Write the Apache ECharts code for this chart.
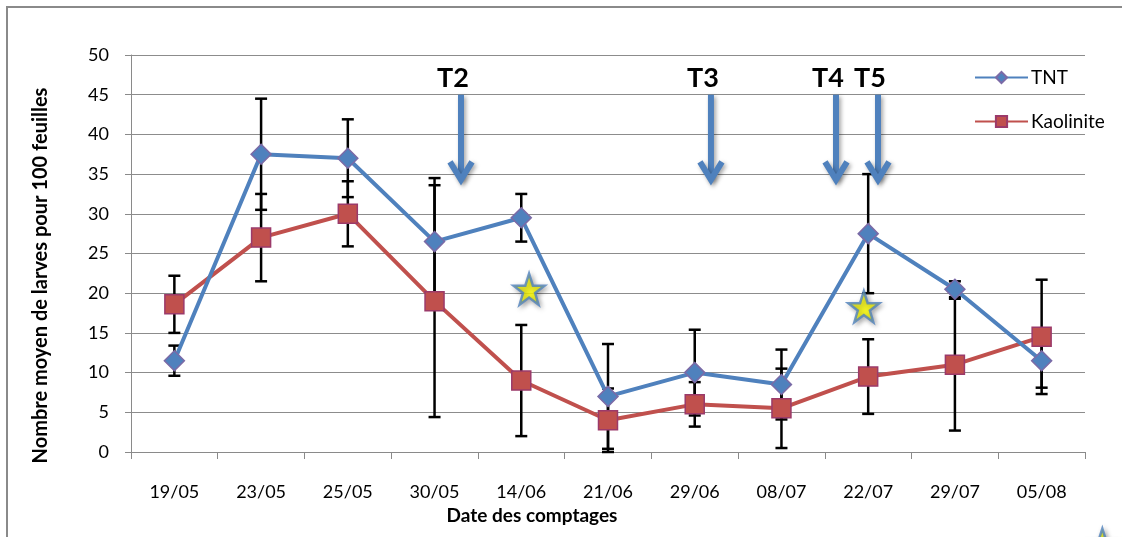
<!DOCTYPE html>
<html><head><meta charset="utf-8">
<script src="https://cdn.jsdelivr.net/npm/echarts@6/dist/echarts.min.js"></script>
<style>html,body{margin:0;padding:0;background:#fff}#c{width:1122px;height:537px}</style>
</head><body><div id="c"></div>
<script>
const categories = ['19/05','23/05','25/05','30/05','14/06','21/06','29/06','08/07','22/07','29/07','05/08'];
const tnt = [11.5, 37.5, 37, 26.5, 29.5, 7, 10, 8.5, 27.5, 20.5, 11.5];
const tntErr = [1.9, 7, 4.9, 8, 3, 6.6, 5.4, 4.4, 7.5, 1, 3.4];
const kao = [18.6, 27, 30, 19, 9, 4, 6, 5.5, 9.5, 11, 14.5];
const kaoErr = [3.6, 5.5, 4.1, 14.6, 7, 4.0, 2.8, 5, 4.7, 8.3, 7.2];
const yTicks = [0, 5, 10, 15, 20, 25, 30, 35, 40, 45, 50];
// treatment arrows: position along the date axis (category units), top, tip, label
const arrowX = [3.805, 6.687, 8.129, 8.613];
const arrowTop = [45, 45, 45, 45];
const arrowTip = [33.9, 33.9, 33.9, 33.9];
const arrowLabels = ['T2', 'T3', 'T4', 'T5'];
// star annotations
const starX = [4.59, 8.45, 11.2];
const starY = [20.5, 18.3, -11.6];

const FONT = 'Lato, "Open Sans", sans-serif';
const BLUE = '#4F81BD', RED = '#C0504D';
const starPath = 'path://M50,0 L61.8,35.1 L98.1,35.1 L68.8,56.7 L79.4,91 L50,70 L20.6,91 L31.2,56.7 L1.9,35.1 L38.2,35.1 Z';

function errData(m, e) { return m.map((v, i) => [i, v - e[i], v + e[i]]); }
function errRender(params, api) {
  const x = api.value(0), lo = Math.max(0, api.value(1)), hi = api.value(2);
  const a = api.coord([x, hi]), b = api.coord([x, lo]);
  const hw = 6, st = {stroke: '#000', lineWidth: 2.5};
  return {type: 'group', children: [
    {type: 'line', shape: {x1: a[0], y1: a[1], x2: b[0], y2: b[1]}, style: st},
    {type: 'line', shape: {x1: a[0] - hw, y1: a[1], x2: a[0] + hw, y2: a[1]}, style: st},
    {type: 'line', shape: {x1: b[0] - hw, y1: b[1], x2: b[0] + hw, y2: b[1]}, style: st}
  ]};
}
function arrowRender(params, api) {
  const x = api.value(0);
  const t = api.coord([x, api.value(1)]), b = api.coord([x, api.value(2)]);
  const idx = params.dataIndex;
  const sh = {shadowBlur: 4, shadowColor: 'rgba(0,0,0,0.35)', shadowOffsetX: 2, shadowOffsetY: 2};
  const st = Object.assign({stroke: BLUE, lineWidth: 6, lineCap: 'butt', lineJoin: 'miter', fill: null}, sh);
  return {type: 'group', children: [
    {type: 'line', shape: {x1: t[0], y1: t[1], x2: b[0], y2: b[1] - 3}, style: st},
    {type: 'polyline', shape: {points: [[b[0] - 11, b[1] - 21], [b[0], b[1] - 3], [b[0] + 11, b[1] - 21]]}, style: st},
    {type: 'text', style: {text: arrowLabels[idx], x: t[0] - 8, y: t[1] - 16, align: 'center', verticalAlign: 'middle',
      font: 'bold 27px ' + FONT, fill: '#000'}}
  ]};
}

const chart = echarts.init(document.getElementById('c'));
chart.setOption({
  animation: false,
  backgroundColor: '#fff',
  graphic: [{type: 'rect', shape: {x: 7, y: 7, width: 1140, height: 560}, style: {fill: null, stroke: '#8a8a8a', lineWidth: 2}, silent: true}],
  grid: {left: 131, right: 37, top: 55, bottom: 85},
  legend: {
    data: ['TNT', 'Kaolinite'], orient: 'vertical', left: 969, top: 63, itemGap: 25,
    itemWidth: 53, itemHeight: 14,
    textStyle: {fontFamily: FONT, fontSize: 19, color: '#000', padding: [0, 0, 0, -2]}
  },
  xAxis: [{
    type: 'category', data: categories, boundaryGap: true,
    axisLine: {lineStyle: {color: '#8a8a8a', width: 1}},
    axisTick: {show: true, length: 7, lineStyle: {color: '#8a8a8a'}},
    axisLabel: {fontFamily: FONT, fontSize: 18, color: '#000', margin: 31},
    name: 'Date des comptages', nameLocation: 'middle', nameGap: 53,
    nameTextStyle: {fontFamily: FONT, fontSize: 19, fontWeight: 'bold', color: '#000', padding: [0, 152, 0, 0]}
  }, {
    type: 'value', min: 0, max: 11, show: false
  }],
  yAxis: {
    type: 'value', min: yTicks[0], max: yTicks[yTicks.length - 1], interval: 5,
    axisLine: {show: true, lineStyle: {color: '#8a8a8a', width: 1}},
    axisTick: {show: true, length: 6, lineStyle: {color: '#8a8a8a'}},
    splitLine: {lineStyle: {color: '#8c8c8c', width: 1}},
    axisLabel: {fontFamily: FONT, fontSize: 18, color: '#000', margin: 22},
    name: 'Nombre moyen de larves pour 100 feuilles', nameLocation: 'middle', nameGap: 80,
    nameTextStyle: {fontFamily: FONT, fontSize: 20, fontWeight: 'bold', color: '#000', padding: [0, 44, 0, 0]}
  },
  series: [
    {type: 'custom', name: 'errTNT', data: errData(tnt, tntErr), renderItem: errRender, z: 1, silent: true},
    {type: 'custom', name: 'errKao', data: errData(kao, kaoErr), renderItem: errRender, z: 1, silent: true},
    {type: 'line', name: 'TNT', data: tnt, z: 3, symbol: 'diamond', symbolSize: 20,
      lineStyle: {color: BLUE, width: 4}, itemStyle: {color: BLUE, borderColor: '#7B6AA6', borderWidth: 1.5}},
    {type: 'line', name: 'Kaolinite', data: kao, z: 2, symbol: 'rect', symbolSize: 19,
      lineStyle: {color: RED, width: 4}, itemStyle: {color: RED, borderColor: '#9B3A6A', borderWidth: 1.5}},
    {type: 'custom', name: 'arrows', xAxisIndex: 1, data: arrowX.map((x, i) => [x, arrowTop[i], arrowTip[i]]),
      renderItem: arrowRender, z: 4, clip: false, silent: true},
    {type: 'scatter', name: 'stars', xAxisIndex: 1, data: starX.map((x, i) => [x, starY[i]]), clip: false,
      symbol: starPath, symbolSize: 31, z: 5, silent: true,
      itemStyle: {color: '#FFFF00', borderColor: BLUE, borderWidth: 2.5, shadowBlur: 5, shadowColor: 'rgba(0,0,0,0.35)', shadowOffsetX: 2, shadowOffsetY: 2}}
  ]
});
</script></body></html>
